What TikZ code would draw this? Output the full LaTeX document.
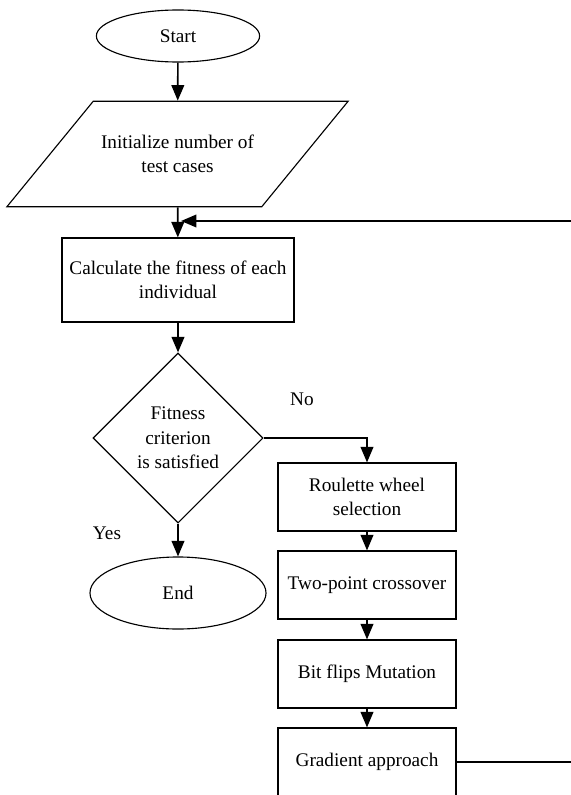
\documentclass[tikz,border=0pt]{standalone}
\usepackage{fontspec}
\setmainfont{Liberation Serif}
\usetikzlibrary{shapes.geometric,arrows.meta}
\tikzset{
	flowtext/.style={font=\fontsize{13.7}{17.5}\selectfont, align=center},
	terminal/.style={draw, ellipse, line width=0.8pt, flowtext, inner sep=0pt},
	inputbox/.style={draw, trapezium, trapezium left angle=50.7, trapezium right angle=129.3, trapezium stretches body, line width=0.8pt, flowtext, inner xsep=0pt, inner ysep=0.84cm},
	processbox/.style={draw, rectangle, line width=0.8pt, flowtext, inner sep=0pt},
	decision/.style={draw, diamond, line width=0.8pt, flowtext, inner sep=0pt, minimum width=4.25cm, minimum height=4.25cm},
	stepbox/.style={processbox, minimum width=4.45cm, minimum height=1.7cm},
	flowarrow/.style={-{Triangle[length=11pt,width=9pt]}, line width=1.2pt}
}

\begin{document}
\begin{tikzpicture}[x=0.025cm, y=-0.025cm]
		\useasboundingbox (0,0) rectangle (571,795);
		\clip (0,0) rectangle (571,795);
		\node[terminal, minimum width=4.08cm, minimum height=1.3cm] (Start) at (178,36) {Start};
		\node[inputbox, minimum width=8.53cm] (InitCases) at (177.5,154) {Initialize number of\\test cases};
		\node[processbox, minimum width=5.8cm, minimum height=2.1cm] (CalcFitness) at (178,280) {Calculate the fitness of each\\individual};
		\node[decision] (FitnessCheck) at (178,438) {Fitness\\criterion\\is satisfied};
		\node[terminal, minimum width=4.4cm, minimum height=1.8cm] (End) at (178,593) {End};
		\node[stepbox] (Roulette) at (367,497) {Roulette wheel\\selection};
		\node[stepbox] (Crossover) at (367,585) {Two-point crossover};
		\node[stepbox] (Mutation) at (367,674) {Bit flips Mutation};
		\node[stepbox] (Gradient) at (367,762) {Gradient approach};
		\node[flowtext] (NoLabel) at (302,399) {No};
		\node[flowtext] (YesLabel) at (107,533) {Yes};
		\coordinate (Merge) at (181,221);
		\coordinate (LoopBottom) at (620,762);
		\coordinate (LoopTop) at (620,221);
		\draw[flowarrow] (Start) -- (InitCases);
		\draw[flowarrow] (InitCases) -- (CalcFitness);
		\draw[flowarrow] (CalcFitness) -- (FitnessCheck);
		\draw[flowarrow] (FitnessCheck) -- (End);
		\draw[flowarrow] (FitnessCheck.east) -| (Roulette.north);
		\draw[flowarrow] (Roulette) -- (Crossover);
		\draw[flowarrow] (Crossover) -- (Mutation);
		\draw[flowarrow] (Mutation) -- (Gradient);
		\draw[flowarrow] (Gradient.east) -- (LoopBottom) -- (LoopTop) -- (Merge);
\end{tikzpicture}
\end{document}
